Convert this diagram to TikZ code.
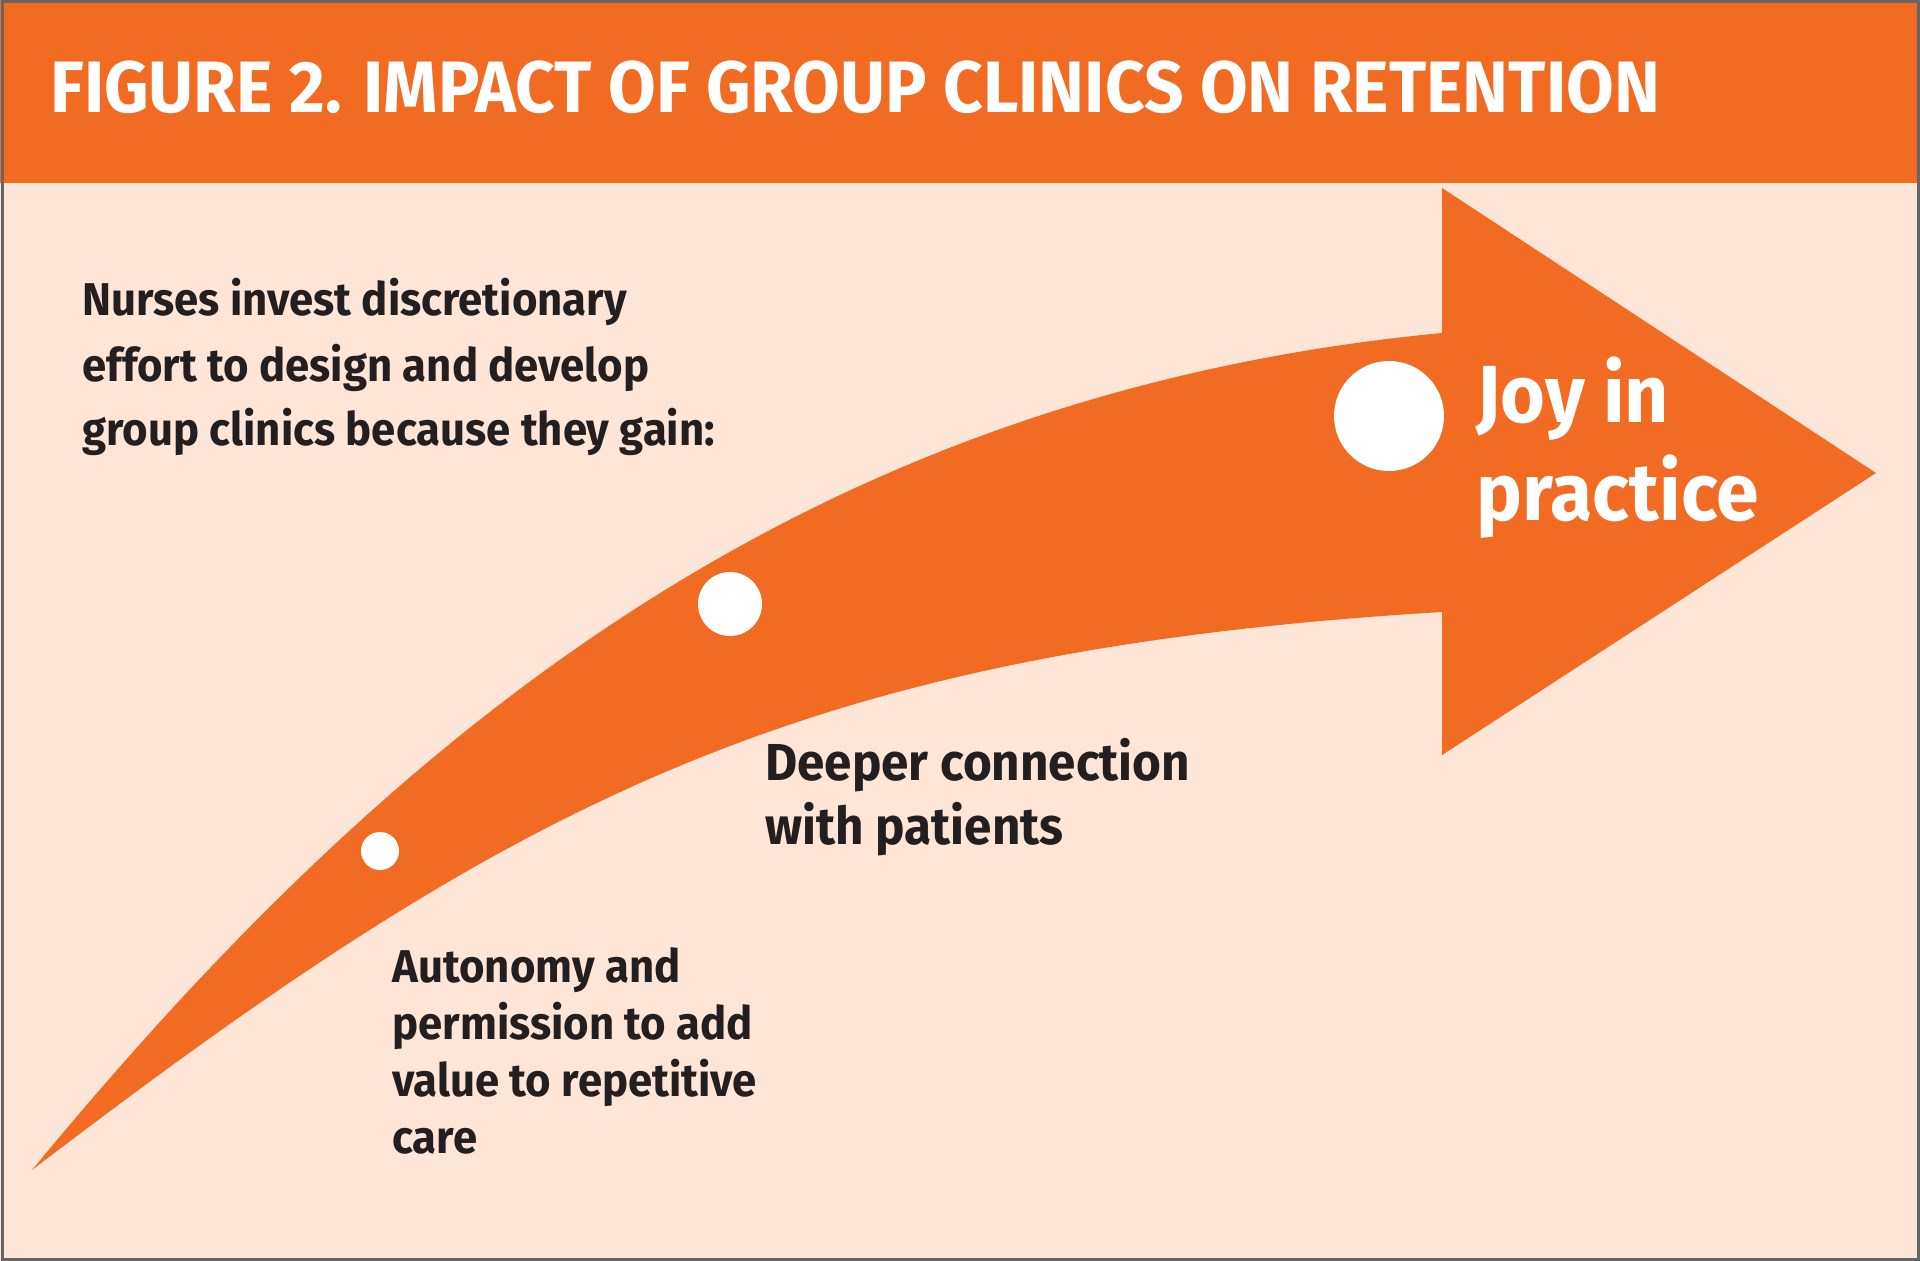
\documentclass[tikz,border=0pt]{standalone}
\usepackage{fontspec}
\setmainfont{Fira Sans}[FakeStretch=0.95,BoldFont={Fira Sans Bold}]
\definecolor{impactorange}{RGB}{242,107,34}
\definecolor{peach}{RGB}{253,230,216}
\definecolor{inkdark}{RGB}{35,31,32}
\begin{document}
\begin{tikzpicture}[x=0.5pt, y=-0.5pt,
    txt/.style={anchor=base west, inner sep=0pt, align=left, text=inkdark, font=\bfseries},
    dot/.style={circle, fill=white, inner sep=0pt}]
    \useasboundingbox (0,0) rectangle (1920,1261);
    \fill[peach] (0,0) rectangle (1920,1261);
    \fill[impactorange] (0,0) rectangle (1920,183);
    \draw[gray!80!black, line width=1.5pt] (2,2) rectangle (1918,1259);

    \node[txt, text=white, font=\bfseries\fontsize{36.4}{40}\selectfont](Title) at (50,113)
        {FIGURE 2. IMPACT OF GROUP CLINICS ON RETENTION};

    % the rising arrow
    \coordinate (Tail) at (32,1170);
    \coordinate (HeadTop) at (1442,188);
    \coordinate (HeadTip) at (1876,473);
    \coordinate (HeadBot) at (1442,755);
    \fill[impactorange] (Tail) .. controls (382,746) and (792,395) .. (1442,333)
        -- (HeadTop) -- (HeadTip) -- (HeadBot) -- (1442,612)
        .. controls (792,651) and (509,806) .. (Tail) -- cycle;

    \node[dot, minimum size=19pt](D1) at (380,851) {};
    \node[dot, minimum size=32pt](D2) at (730,604) {};
    \node[dot, minimum size=55pt](D3) at (1389,416) {};

    % base anchor sits on the last line
    \node[txt, font=\bfseries\fontsize{23}{32.5}\selectfont](Intro) at (82,446)
        {Nurses invest discretionary\\effort to design and develop\\group clinics because they gain:};
    \node[txt, font=\bfseries\fontsize{23}{28.5}\selectfont](Autonomy) at (392,1153)
        {Autonomy and\\permission to add\\value to repetitive\\care};
    \node[txt, font=\bfseries\fontsize{26}{32}\selectfont](Deeper) at (765,844)
        {Deeper connection\\with patients};
    \node[txt, text=white, font=\bfseries\fontsize{40.5}{48.5}\selectfont](Joy) at (1476,520)
        {Joy in\\practice};
\end{tikzpicture}
\end{document}
